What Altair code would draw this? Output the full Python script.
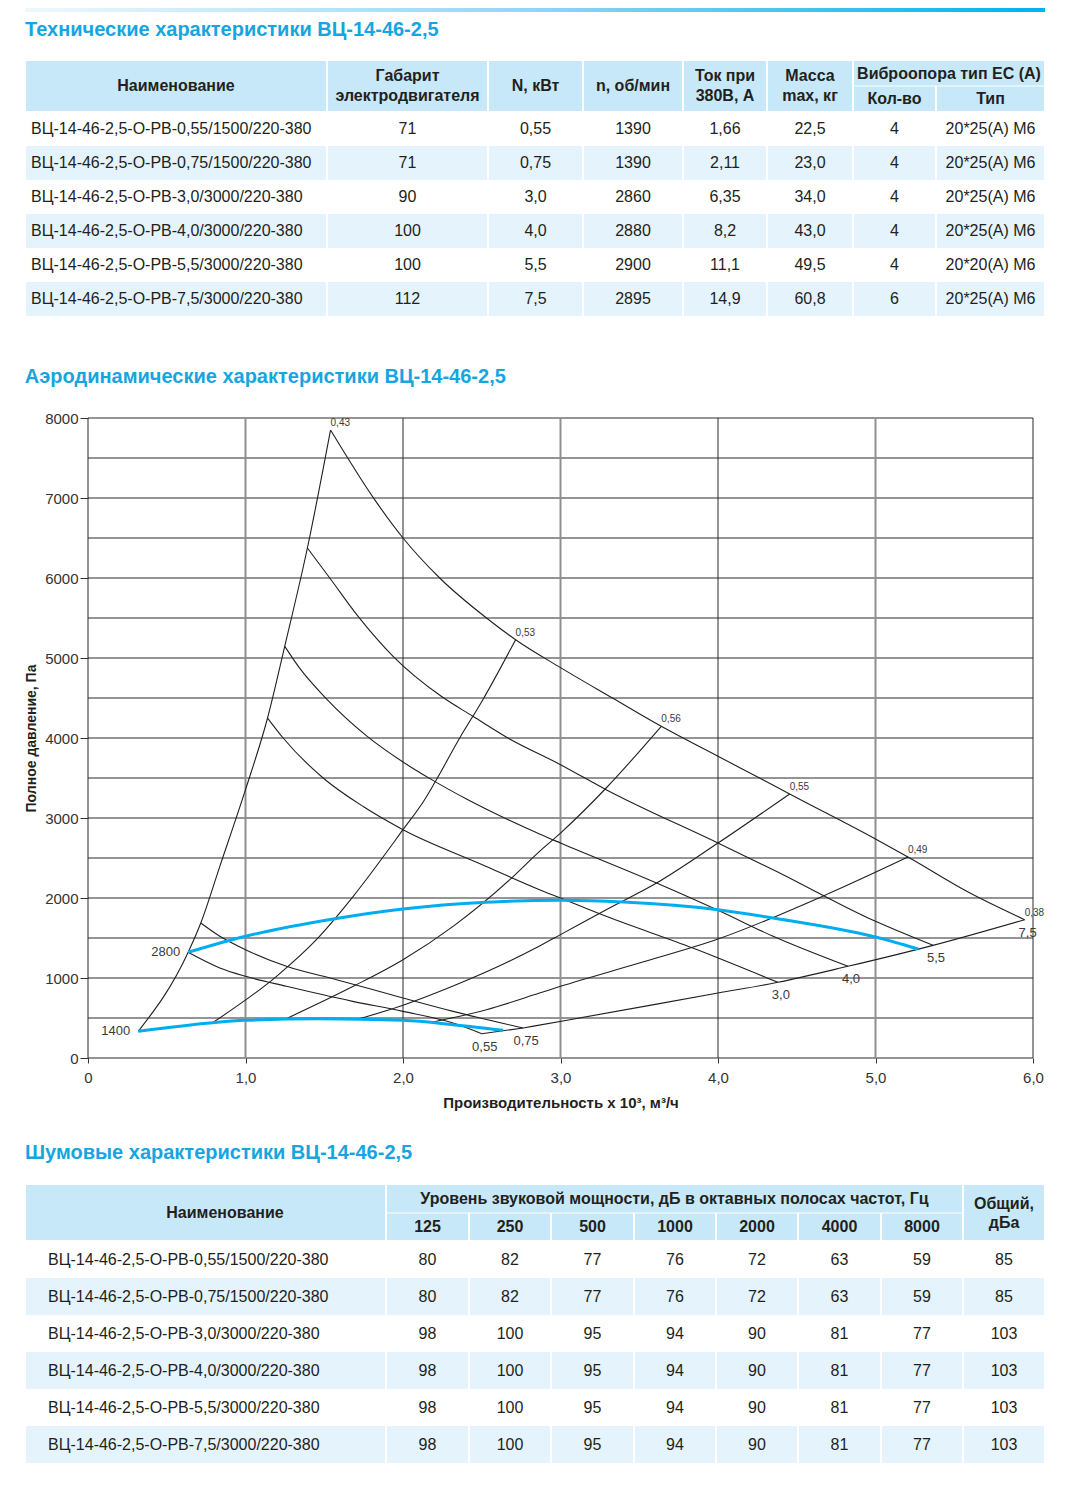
import altair as alt
import pandas as pd

FONT = "Liberation Sans"
INK = "#231F20"
LABEL_INK = "#3a3a3a"
HEAD_BLUE = "#15A5E0"
HEADER_FILL = "#C7E8F8"
STRIPE_FILL = "#E4F3FC"
CURVE_BLUE = "#00AEEF"
GRID_DARK = "#2a2a2a"
GRID_GREY = "#8f8f8f"

# ---------------- headings ----------------
heading_tech = "Технические характеристики ВЦ-14-46-2,5"
heading_aero = "Аэродинамические характеристики ВЦ-14-46-2,5"
heading_noise = "Шумовые характеристики ВЦ-14-46-2,5"

# ---------------- table 1 : technical data ----------------
tech_head_cols = ["Наименование", "Габарит\nэлектродвигателя", "N, кВт", "n, об/мин",
                  "Ток при\n380В, А", "Масса\nmax, кг"]
tech_head_group = "Виброопора тип ЕС (А)"
tech_head_sub = ["Кол-во", "Тип"]
tech_names = ["ВЦ-14-46-2,5-О-РВ-0,55/1500/220-380", "ВЦ-14-46-2,5-О-РВ-0,75/1500/220-380",
              "ВЦ-14-46-2,5-О-РВ-3,0/3000/220-380", "ВЦ-14-46-2,5-О-РВ-4,0/3000/220-380",
              "ВЦ-14-46-2,5-О-РВ-5,5/3000/220-380", "ВЦ-14-46-2,5-О-РВ-7,5/3000/220-380"]
tech_frame = ["71", "71", "90", "100", "100", "112"]
tech_power = ["0,55", "0,75", "3,0", "4,0", "5,5", "7,5"]
tech_rpm = ["1390", "1390", "2860", "2880", "2900", "2895"]
tech_current = ["1,66", "2,11", "6,35", "8,2", "11,1", "14,9"]
tech_mass = ["22,5", "23,0", "34,0", "43,0", "49,5", "60,8"]
tech_mount_qty = ["4", "4", "4", "4", "4", "6"]
tech_mount_type = ["20*25(А) М6", "20*25(А) М6", "20*25(А) М6", "20*25(А) М6",
                   "20*20(А) М6", "20*25(А) М6"]

# ---------------- table 2 : noise data ----------------
noise_head_name = "Наименование"
noise_head_group = "Уровень звуковой мощности, дБ в октавных полосах частот, Гц"
noise_bands = ["125", "250", "500", "1000", "2000", "4000", "8000"]
noise_head_total = "Общий,\nдБа"
noise_names = tech_names
noise_125 = [80, 80, 98, 98, 98, 98]
noise_250 = [82, 82, 100, 100, 100, 100]
noise_500 = [77, 77, 95, 95, 95, 95]
noise_1000 = [76, 76, 94, 94, 94, 94]
noise_2000 = [72, 72, 90, 90, 90, 90]
noise_4000 = [63, 63, 81, 81, 81, 81]
noise_8000 = [59, 59, 77, 77, 77, 77]
noise_total = [85, 85, 103, 103, 103, 103]

# ---------------- aerodynamic chart data (flow x1000 m3/h, pressure Pa) ----------------
surge_x = [0.319, 0.636, 0.716, 0.837, 1.0, 1.14, 1.249, 1.393, 1.54]
surge_y = [333, 1321, 1687, 2396, 3354, 4250, 5146, 6375, 7850]
fan75_x = [1.54, 1.82, 2.0, 2.233, 2.53, 2.715, 3.0, 3.33, 3.64, 4.0, 4.285, 4.455, 5.0, 5.206, 5.6, 5.947]
fan75_y = [7850, 6979, 6500, 6000, 5500, 5229, 4880, 4500, 4146, 3771, 3479, 3300, 2737, 2512, 2062, 1729]
fan55_x = [1.393, 1.535, 1.715, 1.937, 2.243, 2.444, 2.666, 3.0, 3.29, 4.0, 4.35, 5.0, 5.365]
fan55_y = [6375, 6000, 5520, 5021, 4521, 4271, 4000, 3667, 3354, 2687, 2354, 1708, 1408]
fan40_x = [1.249, 1.345, 1.514, 1.767, 2.0, 2.19, 2.40, 2.867, 3.0, 3.61, 4.0, 4.35, 4.825]
fan40_y = [5146, 4870, 4490, 4030, 3700, 3470, 3240, 2800, 2687, 2187, 1846, 1521, 1146]
fan30_x = [1.14, 1.239, 1.493, 1.75, 2.0, 2.5, 2.867, 3.0, 3.29, 3.84, 4.38]
fan30_y = [4250, 4000, 3500, 3140, 2854, 2420, 2104, 2000, 1771, 1375, 946]
fan075_x = [0.716, 0.837, 1.0, 1.26, 1.578, 2.0, 2.318, 2.763]
fan075_y = [1687, 1521, 1354, 1146, 979, 750, 583, 375]
fan055_x = [0.636, 0.837, 1.0, 1.26, 1.68, 2.0, 2.318, 2.5]
fan055_y = [1321, 1125, 1021, 896, 708, 583, 437, 304]
link_x = [2.5, 2.763]
link_y = [304, 375]
edge_x = [2.763, 3.06, 4.0, 4.38, 4.825, 5.365, 5.947]
edge_y = [375, 479, 812, 946, 1146, 1408, 1729]
ray1_x = [0.795, 1.197, 1.45, 1.684, 2.0, 2.137, 2.2, 2.36, 2.507, 2.715]
ray1_y = [446, 1021, 1479, 2021, 2854, 3229, 3437, 4000, 4479, 5229]
ray2_x = [1.26, 1.684, 2.0, 2.318, 2.678, 2.867, 3.0, 3.29, 3.64]
ray2_y = [492, 896, 1229, 1646, 2229, 2583, 2812, 3375, 4146]
ray3_x = [1.726, 2.0, 2.318, 2.6, 2.867, 3.0, 3.29, 3.61, 4.0, 4.455]
ray3_y = [492, 660, 900, 1140, 1400, 1542, 1854, 2187, 2687, 3300]
ray4_x = [2.19, 2.53, 2.867, 3.0, 3.5, 4.0, 4.71, 5.206]
ray4_y = [450, 604, 812, 896, 1187, 1487, 2062, 2512]
rpm2800_x = [0.636, 1.0, 1.557, 2.0, 2.53, 3.0, 3.4, 4.0, 4.35, 5.0, 5.27]
rpm2800_y = [1321, 1521, 1737, 1862, 1946, 1971, 1950, 1854, 1750, 1512, 1362]
rpm1400_x = [0.319, 0.773, 1.0, 1.47, 2.0, 2.318, 2.636]
rpm1400_y = [333, 437, 471, 492, 471, 417, 346]

eff_label_x = [1.54, 2.715, 3.64, 4.455, 5.206, 5.947]
eff_label_y = [7850, 5229, 4146, 3300, 2512, 1729]
eff_label_t = ["0,43", "0,53", "0,56", "0,55", "0,49", "0,38"]
pow_label_x = [5.947, 5.365, 4.825, 4.38, 2.5, 2.763]
pow_label_y = [1729, 1408, 1146, 946, 304, 375]
pow_label_t = ["7,5", "5,5", "4,0", "3,0", "0,55", "0,75"]
rpm_label_x = [0.636, 0.319]
rpm_label_y = [1321, 333]
rpm_label_t = ["2800", "1400"]

flow_ticks = [0, 1, 2, 3, 4, 5, 6]
pressure_ticks = list(range(0, 8001, 1000))
pressure_grid = list(range(0, 8001, 500))

# ---------------- layout (px, relative to each panel's plot origin) ----------------
T_LEFT = -63
T_SPAN_RIGHT = 957
T1_COL_W = [302, 161, 95, 100, 84, 86, 83, 109]
T2_COL_W = [361, 83, 82, 83, 82, 82, 83, 82, 82]
BAR_Y = (0, 4)
T1_HEADING_Y = 22
T1_HEAD = (53, 78, 104)
T1_ROW_H = 34
T1_H = 339
T2_HEADING_Y = 23
T2_HEAD = (55, 83, 111)
T2_ROW_H = 37
T2_H = 335
AERO_W, AERO_H = 945, 640
LINE_H = 20


def col_edges(widths):
    e = [T_LEFT]
    for w in widths:
        e.append(e[-1] + w)
    return e


def add_cell(rects, e, c0, c1, y1, y2, fill):
    rects.append({"x1": e[c0] + 1, "x2": e[c1] - 1, "y1": y1, "y2": y2, "fill": fill})


def add_text(texts, x, yc, label, style):
    n = label.count("\n") + 1
    texts.append({"x": x, "y": yc - (n - 1) * LINE_H / 2, "t": label, "s": style})


def table_panel(rects, texts, height, heading_text, heading_y, with_bar):
    xs = alt.Scale(domain=[0, T_SPAN_RIGHT], nice=False, zero=False)
    ys = alt.Scale(domain=[0, height], nice=False, zero=False, reverse=True)
    layers = []
    if with_bar:
        bar = pd.DataFrame({"x1": [T_LEFT], "x2": [T_LEFT + sum(T1_COL_W)],
                            "y1": [BAR_Y[0]], "y2": [BAR_Y[1]]})
        grad = alt.Gradient(gradient="linear",
                            stops=[alt.GradientStop(color="#EEF8FD", offset=0),
                                   alt.GradientStop(color="#8FD6F5", offset=0.5),
                                   alt.GradientStop(color="#00B2EE", offset=1)],
                            x1=0, x2=1, y1=0, y2=0)
        layers.append(alt.Chart(bar).mark_rect(fill=grad).encode(
            x=alt.X("x1:Q", scale=xs, axis=None), x2="x2:Q",
            y=alt.Y("y1:Q", scale=ys, axis=None), y2="y2:Q"))
    rdf = pd.DataFrame(rects)
    layers.append(alt.Chart(rdf).mark_rect(strokeWidth=0).encode(
        x=alt.X("x1:Q", scale=xs, axis=None), x2="x2:Q",
        y=alt.Y("y1:Q", scale=ys, axis=None), y2="y2:Q",
        color=alt.Color("fill:N", scale=None)))
    hd = pd.DataFrame({"x": [T_LEFT], "y": [heading_y], "t": [heading_text]})
    layers.append(alt.Chart(hd).mark_text(align="left", baseline="middle", fontSize=20,
                                           fontWeight="bold", color=HEAD_BLUE).encode(
        x=alt.X("x:Q", scale=xs, axis=None), y=alt.Y("y:Q", scale=ys, axis=None), text="t:N"))
    styles = {
        "head": dict(align="center", fontSize=16, fontWeight="bold"),
        "head2": dict(align="center", fontSize=16, fontWeight="bold", lineHeight=19),
        "body": dict(align="center", fontSize=16),
        "name": dict(align="left", fontSize=16),
    }
    tdf = pd.DataFrame(texts)
    for key, st in styles.items():
        sub = tdf[tdf["s"] == key]
        if sub.empty:
            continue
        st = dict(st)
        lh = st.pop("lineHeight", LINE_H)
        layers.append(alt.Chart(sub).mark_text(baseline="middle", color=INK, lineBreak="\n",
                                                lineHeight=lh, **st).encode(
            x=alt.X("x:Q", scale=xs, axis=None), y=alt.Y("y:Q", scale=ys, axis=None), text="t:N"))
    return alt.layer(*layers).properties(width=T_SPAN_RIGHT, height=height)


# ---------- build table 1 ----------
e1 = col_edges(T1_COL_W)
r1, t1 = [], []
top, split, bottom = T1_HEAD
for c, lab in enumerate(tech_head_cols):
    add_cell(r1, e1, c, c + 1, top, bottom - 1, HEADER_FILL)
    add_text(t1, (e1[c] + e1[c + 1]) / 2, (top + bottom - 1) / 2, lab, "head")
add_cell(r1, e1, 6, 8, top, split - 0.5, HEADER_FILL)
add_text(t1, (e1[6] + e1[8]) / 2, (top + split) / 2, tech_head_group, "head")
for k, lab in enumerate(tech_head_sub):
    c = 6 + k
    add_cell(r1, e1, c, c + 1, split + 0.5, bottom - 1, HEADER_FILL)
    add_text(t1, (e1[c] + e1[c + 1]) / 2, (split + bottom) / 2, lab, "head")
tech_cols = [tech_frame, tech_power, tech_rpm, tech_current, tech_mass, tech_mount_qty, tech_mount_type]
for i, name in enumerate(tech_names):
    y0 = bottom + i * T1_ROW_H
    fill = "#FFFFFF" if i % 2 == 0 else STRIPE_FILL
    for c in range(len(T1_COL_W)):
        add_cell(r1, e1, c, c + 1, y0, y0 + T1_ROW_H, fill)
    yc = y0 + T1_ROW_H / 2
    add_text(t1, e1[0] + 6, yc, name, "name")
    for c, colvals in enumerate(tech_cols, start=1):
        add_text(t1, (e1[c] + e1[c + 1]) / 2, yc, colvals[i], "body")
tech_chart = table_panel(r1, t1, T1_H, heading_tech, T1_HEADING_Y, True)

# ---------- build table 2 ----------
e2 = col_edges(T2_COL_W)
r2, t2 = [], []
top, split, bottom = T2_HEAD
add_cell(r2, e2, 0, 1, top, bottom - 1, HEADER_FILL)
add_text(t2, e2[0] + 200, (top + bottom - 1) / 2, noise_head_name, "head")
add_cell(r2, e2, 1, 8, top, split - 0.5, HEADER_FILL)
add_text(t2, (e2[1] + e2[8]) / 2, (top + split) / 2, noise_head_group, "head")
for k, lab in enumerate(noise_bands):
    c = 1 + k
    add_cell(r2, e2, c, c + 1, split + 0.5, bottom - 1, HEADER_FILL)
    add_text(t2, (e2[c] + e2[c + 1]) / 2, (split + bottom) / 2, lab, "head")
add_cell(r2, e2, 8, 9, top, bottom - 1, HEADER_FILL)
t2.append({"x": (e2[8] + e2[9]) / 2, "y": (top + bottom) / 2 - 19 / 2, "t": noise_head_total, "s": "head2"})
noise_cols = [noise_125, noise_250, noise_500, noise_1000, noise_2000, noise_4000, noise_8000, noise_total]
for i, name in enumerate(noise_names):
    y0 = bottom + i * T2_ROW_H
    fill = "#FFFFFF" if i % 2 == 0 else STRIPE_FILL
    for c in range(len(T2_COL_W)):
        add_cell(r2, e2, c, c + 1, y0, y0 + T2_ROW_H, fill)
    yc = y0 + T2_ROW_H / 2
    add_text(t2, e2[0] + 23, yc, name, "name")
    for c, colvals in enumerate(noise_cols, start=1):
        add_text(t2, (e2[c] + e2[c + 1]) / 2, yc, str(colvals[i]), "body")
noise_chart = table_panel(r2, t2, T2_H, heading_noise, T2_HEADING_Y, False)

# ---------- aerodynamic chart ----------
xsc = alt.Scale(domain=[0, 6], nice=False, zero=False)
ysc = alt.Scale(domain=[0, 8000], nice=False, zero=False)

black_curves = {
    "surge": (surge_x, surge_y), "fan75": (fan75_x, fan75_y), "fan55": (fan55_x, fan55_y),
    "fan40": (fan40_x, fan40_y), "fan30": (fan30_x, fan30_y), "fan075": (fan075_x, fan075_y),
    "fan055": (fan055_x, fan055_y), "link": (link_x, link_y), "edge": (edge_x, edge_y),
    "ray1": (ray1_x, ray1_y), "ray2": (ray2_x, ray2_y), "ray3": (ray3_x, ray3_y), "ray4": (ray4_x, ray4_y),
}
blue_curves = {"rpm2800": (rpm2800_x, rpm2800_y), "rpm1400": (rpm1400_x, rpm1400_y)}


def long_df(curves):
    rows = []
    for name, (xs_, ys_) in curves.items():
        for i, (a, b) in enumerate(zip(xs_, ys_)):
            rows.append({"curve": name, "x": a, "y": b, "i": i})
    return pd.DataFrame(rows)


xaxis = alt.Axis(values=flow_ticks,
                 labelExpr="datum.value == 0 ? '0' : replace(format(datum.value, '.1f'), '.', ',')",
                 title="Производительность х 10³, м³/ч", titleFontSize=15, titleFontWeight="bold",
                 titleColor=INK, titlePadding=10, labelFontSize=15, labelColor="#333333",
                 labelPadding=7, labelFlush=False, tickSize=5, tickColor="#333333",
                 domain=False, grid=False)
yaxis = alt.Axis(values=pressure_ticks, format="d", title="Полное давление, Па", titleFontSize=14,
                 titleFontWeight="bold", titleColor=INK, titlePadding=6, labelFontSize=15,
                 labelColor="#333333", labelPadding=2, labelFlush=False, tickSize=8,
                 tickColor="#333333", domain=False, grid=False)

grid_h = alt.Chart(pd.DataFrame({"y": pressure_grid})).mark_rule(color=GRID_DARK, strokeWidth=1).encode(
    y=alt.Y("y:Q", scale=ysc, axis=yaxis))
grid_v_dark = alt.Chart(pd.DataFrame({"x": [v for v in flow_ticks if v % 2 == 0]})).mark_rule(
    color=GRID_DARK, strokeWidth=1).encode(x=alt.X("x:Q", scale=xsc, axis=xaxis))
grid_v_grey = alt.Chart(pd.DataFrame({"x": [v for v in flow_ticks if v % 2 == 1]})).mark_rule(
    color=GRID_GREY, strokeWidth=2).encode(x=alt.X("x:Q", scale=xsc))

black = alt.Chart(long_df(black_curves)).mark_line(interpolate="monotone", color=INK, strokeWidth=1.1).encode(
    x=alt.X("x:Q", scale=xsc), y=alt.Y("y:Q", scale=ysc), detail="curve:N", order="i:Q")
blue = alt.Chart(long_df(blue_curves)).mark_line(interpolate="monotone", color=CURVE_BLUE, strokeWidth=3).encode(
    x=alt.X("x:Q", scale=xsc), y=alt.Y("y:Q", scale=ysc), detail="curve:N", order="i:Q")

eff_lab = alt.Chart(pd.DataFrame({"x": eff_label_x, "y": eff_label_y, "t": eff_label_t})).mark_text(
    align="left", baseline="alphabetic", dx=0, dy=-4, fontSize=10, color=LABEL_INK).encode(
    x=alt.X("x:Q", scale=xsc), y=alt.Y("y:Q", scale=ysc), text="t:N")
pow_lab = alt.Chart(pd.DataFrame({"x": pow_label_x, "y": pow_label_y, "t": pow_label_t})).mark_text(
    align="center", baseline="top", dx=3, dy=7, fontSize=13, color=LABEL_INK).encode(
    x=alt.X("x:Q", scale=xsc), y=alt.Y("y:Q", scale=ysc), text="t:N")
rpm_lab = alt.Chart(pd.DataFrame({"x": rpm_label_x, "y": rpm_label_y, "t": rpm_label_t})).mark_text(
    align="right", baseline="middle", dx=-8, dy=0, fontSize=13, color=LABEL_INK).encode(
    x=alt.X("x:Q", scale=xsc), y=alt.Y("y:Q", scale=ysc), text="t:N")

aero_chart = alt.layer(grid_h, grid_v_dark, grid_v_grey, black, blue, eff_lab, pow_lab, rpm_lab).properties(
    width=AERO_W, height=AERO_H,
    title=alt.TitleParams(text=heading_aero, anchor="start", frame="bounds", fontSize=20,
                          fontWeight="bold", color=HEAD_BLUE, offset=24))

chart = alt.vconcat(tech_chart, aero_chart, noise_chart, spacing=20).properties(
    padding={"left": 16, "top": 0, "right": 5, "bottom": 5}
).configure(font=FONT).configure_view(stroke=None)

chart.save("out.html", embed_options={"renderer": "svg", "actions": False})
